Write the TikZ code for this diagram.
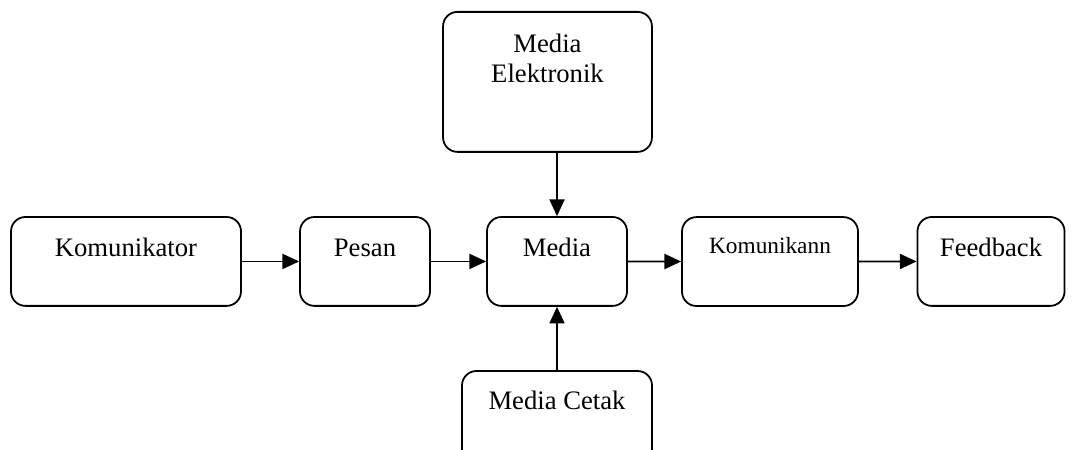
\documentclass[tikz,border=0pt]{standalone}
\usepackage{fontspec}
\setmainfont{Liberation Serif}
\usetikzlibrary{arrows.meta}

\begin{document}
\begin{tikzpicture}[x=0.45pt, y=-0.45pt,
    box/.style={draw, line width=0.8pt, rounded corners=6.5pt, inner sep=0pt,
        anchor=base, font=\fontsize{12}{14}\selectfont,
        text height=18pt, text depth=22pt},
    arr/.style={line width=0.7pt, -{Triangle[length=7.5pt,width=6.8pt]}}]
\useasboundingbox (0,0) rectangle (1075,450);
\node[box, minimum width=103.5pt] (kom) at (126,257) {Komunikator};
\node[box, minimum width=58.5pt] (pesan) at (365,257) {Pesan};
\node[box, minimum width=63pt] (media) at (557,257) {Media};
\node[box, minimum width=79.2pt, font=\fontsize{10.5}{12}\selectfont,
    text height=16.6pt, text depth=23.4pt] (komunikan) at (770,254) {Komunikann};
\node[box, minimum width=66.2pt] (feedback) at (991,257) {Feedback};
\node[box, minimum width=94pt, text height=32pt, text depth=31pt] (elek) at (547.5,83)
    {\renewcommand\arraystretch{0.97}\begin{tabular}[b]{@{}c@{}}Media\\Elektronik\end{tabular}};
\node[box, minimum width=85.5pt, text height=17.1pt, text depth=32pt] (cetak) at (557,409)
    {Media Cetak\hspace{8pt}};
\foreach \a/\b in {kom/pesan, pesan/media, media/komunikan, komunikan/feedback}
    \draw[arr] (\a) -- (\b);
\draw[arr] (elek.south -| media.north) -- (media.north);
\draw[arr] (cetak.north -| media.south) -- (media.south);
\end{tikzpicture}
\end{document}
